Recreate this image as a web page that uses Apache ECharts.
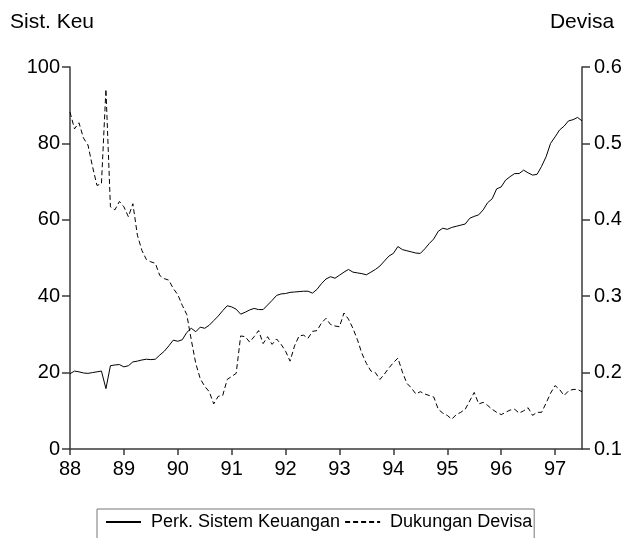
<!DOCTYPE html>
<html>
<head>
<meta charset="utf-8">
<script src="https://cdn.jsdelivr.net/npm/echarts@6/dist/echarts.min.js"></script>
<style>
  html, body { margin: 0; padding: 0; background: #fff; }
  #main { width: 626px; height: 538px; }
</style>
</head>
<body>
<div id="main"></div>
<script>
  // monthly observations, 1988M01 .. 1997M07
  const startYear = 1988
  const monthCount = 115

  const leftName = 'Sist. Keu'
  const rightName = 'Devisa'
  const seriesNames = ['Perk. Sistem Keuangan', 'Dukungan Devisa']

  // Perk. Sistem Keuangan (left axis)
  const keuangan = [
    19.7, 20.4, 20.2, 19.9, 19.8, 20.0, 20.2, 20.4, 15.8, 21.8,
    22.0, 22.1, 21.5, 21.8, 22.8, 23.0, 23.3, 23.5, 23.4, 23.5,
    24.6, 25.6, 27.0, 28.5, 28.2, 28.6, 30.5, 31.6, 30.7, 31.9,
    31.6, 32.4, 33.6, 34.8, 36.2, 37.5, 37.2, 36.6, 35.3, 35.8,
    36.4, 36.8, 36.5, 36.5, 37.7, 38.9, 40.2, 40.6, 40.7, 41.0,
    41.1, 41.2, 41.3, 41.3, 40.8, 41.8, 43.3, 44.5, 45.1, 44.7,
    45.5, 46.3, 47.0, 46.3, 46.1, 45.9, 45.6, 46.3, 47.0, 47.9,
    49.2, 50.5, 51.2, 53.0, 52.2, 51.9, 51.6, 51.3, 51.2, 52.4,
    53.8, 55.0, 57.0, 57.8, 57.5, 58.0, 58.3, 58.6, 58.9, 60.4,
    60.9, 61.3, 62.6, 64.5, 65.5, 68.1, 68.6, 70.4, 71.3, 72.1,
    72.1, 73.0, 72.3, 71.7, 71.9, 74.0, 76.5, 80.0, 81.7, 83.5,
    84.5, 85.9, 86.2, 86.8, 85.9
  ]

  // Dukungan Devisa (right axis)
  const devisa = [
    0.541, 0.519, 0.527, 0.507, 0.498, 0.470, 0.445, 0.447, 0.571, 0.417,
    0.413, 0.424, 0.417, 0.404, 0.421, 0.380, 0.360, 0.348, 0.345, 0.343,
    0.327, 0.323, 0.321, 0.310, 0.302, 0.288, 0.276, 0.243, 0.212, 0.192,
    0.182, 0.175, 0.159, 0.169, 0.170, 0.191, 0.195, 0.199, 0.248, 0.247,
    0.240, 0.247, 0.255, 0.238, 0.247, 0.237, 0.244, 0.237, 0.228, 0.215,
    0.235, 0.248, 0.249, 0.245, 0.254, 0.255, 0.265, 0.271, 0.263, 0.261,
    0.260, 0.278, 0.270, 0.258, 0.243, 0.225, 0.212, 0.202, 0.200, 0.191,
    0.198, 0.206, 0.213, 0.219, 0.201, 0.186, 0.180, 0.172, 0.175, 0.172,
    0.170, 0.168, 0.152, 0.147, 0.144, 0.139, 0.145, 0.148, 0.152, 0.163,
    0.174, 0.159, 0.161, 0.157, 0.152, 0.148, 0.145, 0.148, 0.151, 0.152,
    0.147, 0.150, 0.154, 0.144, 0.148, 0.148, 0.160, 0.173, 0.183, 0.178,
    0.170, 0.176, 0.178, 0.178, 0.175
  ]

  const yearLabels = ['88', '89', '90', '91', '92', '93', '94', '95', '96', '97']

  let months = []
  for (let i = 0; i < monthCount; i++) {
    let y = startYear + Math.floor(i / 12)
    let m = (i % 12) + 1
    months.push(y + '-' + (m < 10 ? '0' + m : m))
  }

  const font = 'Liberation Sans, Arial, sans-serif'
  const axisColor = '#3a3a3a'

  let myChart = echarts.init(document.getElementById('main'))
  let option = {
    animation: false,
    backgroundColor: '#fff',
    textStyle: { fontFamily: font, color: '#000' },
    grid: {
      left: 70,
      right: 44,
      top: 67,
      bottom: 89
    },
    legend: {
      left: 97,
      top: 509,
      orient: 'horizontal',
      itemWidth: 35,
      itemHeight: 14,
      itemGap: 4,
      padding: [4, 2, 40, 8],
      borderColor: '#777',
      borderWidth: 1,
      borderRadius: 0,
      data: seriesNames,
      itemStyle: { opacity: 0 },
      textStyle: {
        fontFamily: font,
        fontSize: 18,
        color: '#000',
        padding: [0, 0, 0, 5]
      }
    },
    xAxis: {
      type: 'category',
      data: months,
      boundaryGap: false,
      axisLine: { show: true, lineStyle: { color: axisColor, width: 1.5 } },
      axisTick: {
        show: true,
        length: 6,
        inside: false,
        interval: function (idx) { return idx % 12 === 0 },
        lineStyle: { color: axisColor, width: 1.5 }
      },
      axisLabel: {
        interval: function (idx) { return idx % 12 === 0 },
        formatter: function (val, idx) { return yearLabels[Math.floor(idx / 12)] },
        fontFamily: font,
        fontSize: 20,
        color: '#000',
        margin: 10
      },
      splitLine: { show: false }
    },
    yAxis: [
      {
        type: 'value',
        min: 0,
        max: 100,
        interval: 20,
        name: leftName,
        nameLocation: 'end',
        nameGap: 34,
        nameTextStyle: {
          fontFamily: font,
          fontSize: 21,
          color: '#000',
          align: 'center',
          padding: [0, 36, 0, 0]
        },
        axisLine: { show: true, lineStyle: { color: axisColor, width: 1.5 } },
        axisTick: { show: true, length: 8, lineStyle: { color: axisColor, width: 1.5 } },
        axisLabel: { fontFamily: font, fontSize: 20, color: '#000', margin: 10 },
        splitLine: { show: false }
      },
      {
        type: 'value',
        min: 0.1,
        max: 0.6,
        interval: 0.1,
        position: 'right',
        name: rightName,
        nameLocation: 'end',
        nameGap: 34,
        nameTextStyle: {
          fontFamily: font,
          fontSize: 21,
          color: '#000',
          align: 'center'
        },
        axisLine: { show: true, lineStyle: { color: axisColor, width: 1.5 } },
        axisTick: { show: true, length: 8, lineStyle: { color: axisColor, width: 1.5 } },
        axisLabel: {
          fontFamily: font,
          fontSize: 20,
          color: '#000',
          margin: 12,
          formatter: function (v) { return v.toFixed(1) }
        },
        splitLine: { show: false }
      }
    ],
    series: [
      {
        name: seriesNames[0],
        type: 'line',
        yAxisIndex: 0,
        data: keuangan,
        symbol: 'none',
        itemStyle: { color: '#000' },
        lineStyle: { color: '#000', width: 1, type: 'solid' }
      },
      {
        name: seriesNames[1],
        type: 'line',
        yAxisIndex: 1,
        data: devisa,
        symbol: 'none',
        itemStyle: { color: '#000' },
        lineStyle: { color: '#000', width: 1, type: [5, 3] }
      }
    ]
  }
  myChart.setOption(option)
</script>
</body>
</html>
